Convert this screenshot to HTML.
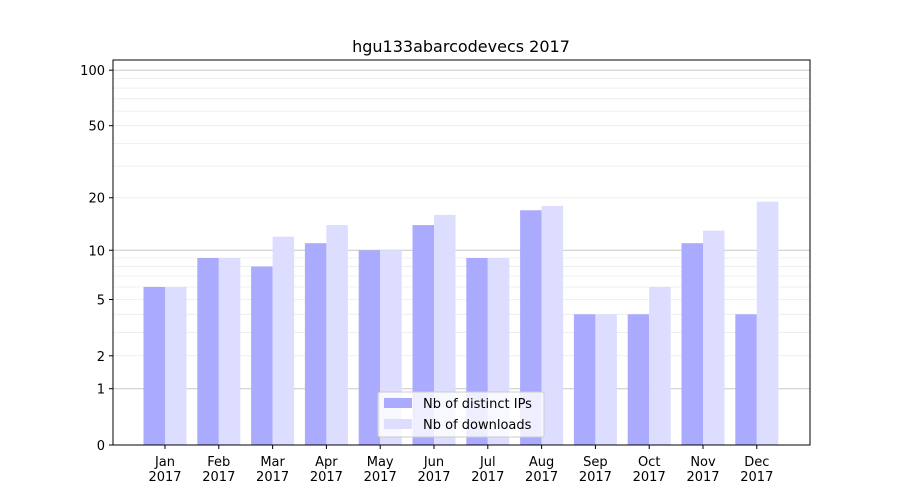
<!DOCTYPE html>
<html><head><meta charset="utf-8"><style>body{margin:0;background:#fff}svg{display:block;font-family:"DejaVu Sans","Liberation Sans",sans-serif}</style></head><body>
<svg width="900" height="500" xmlns="http://www.w3.org/2000/svg">
<rect width="900" height="500" fill="#fff"/>
<g id="grid"></g>
<g id="bars"></g>
<rect x="113" y="60" width="697" height="385" fill="none" stroke="#000" stroke-width="1"/>
<g id="ticks" font-size="13" fill="#000"></g>
<text x="461" y="52" font-size="16" text-anchor="middle">hgu133abarcodevecs 2017</text>
<g>
<rect x="378" y="392" width="166" height="45" fill="#fff" fill-opacity="0.8" stroke="#ccc" rx="2"/>
<rect x="384" y="398" width="28" height="10" fill="#aaaaff"/>
<text x="423" y="408" font-size="13">Nb of distinct IPs</text>
<rect x="384" y="419" width="28" height="10" fill="#ddddff"/>
<text x="423" y="429" font-size="13">Nb of downloads</text>
</g>
<script>
const ns="http://www.w3.org/2000/svg";
function Y(v){return 445-187*Math.log10(1+v);}
function el(t,a,p,txt){const e=document.createElementNS(ns,t);for(const k in a)e.setAttribute(k,a[k]);if(txt!==undefined)e.textContent=txt;document.getElementById(p).appendChild(e);return e;}
const minors=[2,3,4,5,6,7,8,9,20,30,40,50,60,70,80,90];
minors.forEach(v=>el("line",{x1:113,x2:810,y1:Y(v),y2:Y(v),stroke:"#ebebeb","stroke-width":0.8},"grid"));
[1,10,100].forEach(v=>el("line",{x1:113,x2:810,y1:Y(v),y2:Y(v),stroke:"#c8c8c8","stroke-width":1},"grid"));
const d=[[6,6],[9,9],[8,12],[11,14],[10,10],[14,16],[9,9],[17,18],[4,4],[4,6],[11,13],[4,19]];
const m=["Jan","Feb","Mar","Apr","May","Jun","Jul","Aug","Sep","Oct","Nov","Dec"];
d.forEach((p,i)=>{const c=165+i*53.8;
el("rect",{x:c-21.5,y:Y(p[0]),width:21.5,height:445-Y(p[0]),fill:"#aaaaff"},"bars");
el("rect",{x:c,y:Y(p[1]),width:21.5,height:445-Y(p[1]),fill:"#ddddff"},"bars");
el("line",{x1:c,x2:c,y1:445,y2:449,stroke:"#000"},"ticks");
el("text",{x:c,y:466,"text-anchor":"middle"},"ticks",m[i]);
el("text",{x:c,y:481,"text-anchor":"middle"},"ticks","2017");});
[0,1,2,5,10,20,50,100].forEach(v=>{const y=Y(v);
el("line",{x1:109,x2:113,y1:y,y2:y,stroke:"#000"},"ticks");
el("text",{x:105,y:y+5,"text-anchor":"end"},"ticks",String(v));});
</script>
</svg>
</body></html>
